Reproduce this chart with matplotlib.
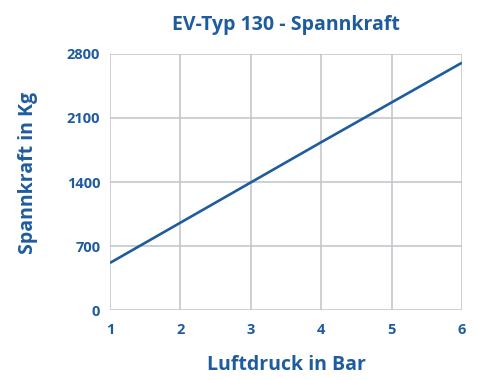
import matplotlib
matplotlib.use("Agg")
import matplotlib.pyplot as plt

# Luftdruck (Bar) vs. Spannkraft (Kg)
druck = [1, 2, 3, 4, 5, 6]
kraft = [515, 955, 1395, 1835, 2270, 2705]
y_ticks = [0, 700, 1400, 2100, 2800]

blau = "#1f5c9e"
grau = "#c3c7cc"

plt.rcParams["font.family"] = ["Open Sans", "DejaVu Sans"]
plt.rcParams["font.weight"] = "bold"

fig = plt.figure(figsize=(4.78, 3.80), dpi=100)
ax = fig.add_axes([0.2301, 0.1842, 0.7364, 0.6737])

ax.plot(druck, kraft, color=blau, linewidth=1.9, solid_capstyle="butt", zorder=3)

ax.set_xlim(1, 6)
ax.set_ylim(0, 2800)
ax.set_xticks(druck)
ax.set_yticks(y_ticks)
ax.grid(True, color=grau, linewidth=1.2)
for s in ax.spines.values():
    s.set_visible(False)
ax.tick_params(length=0, colors=blau, labelsize=10.5)
ax.tick_params(axis="x", pad=9)
ax.tick_params(axis="y", pad=7)
for lbl in ax.get_xticklabels() + ax.get_yticklabels():
    lbl.set_fontweight("bold")

ax.set_title("EV-Typ 130 - Spannkraft", color=blau, fontsize=14,
             fontweight="bold", pad=17)
ax.set_xlabel("Luftdruck in Bar", color=blau, fontsize=14,
              fontweight="bold", labelpad=13)
ax.set_ylabel("Spannkraft in Kg", color=blau, fontsize=14,
              fontweight="bold")
ax.yaxis.set_label_coords(-0.205, 0.535)

fig.savefig("out.png", dpi=100)
